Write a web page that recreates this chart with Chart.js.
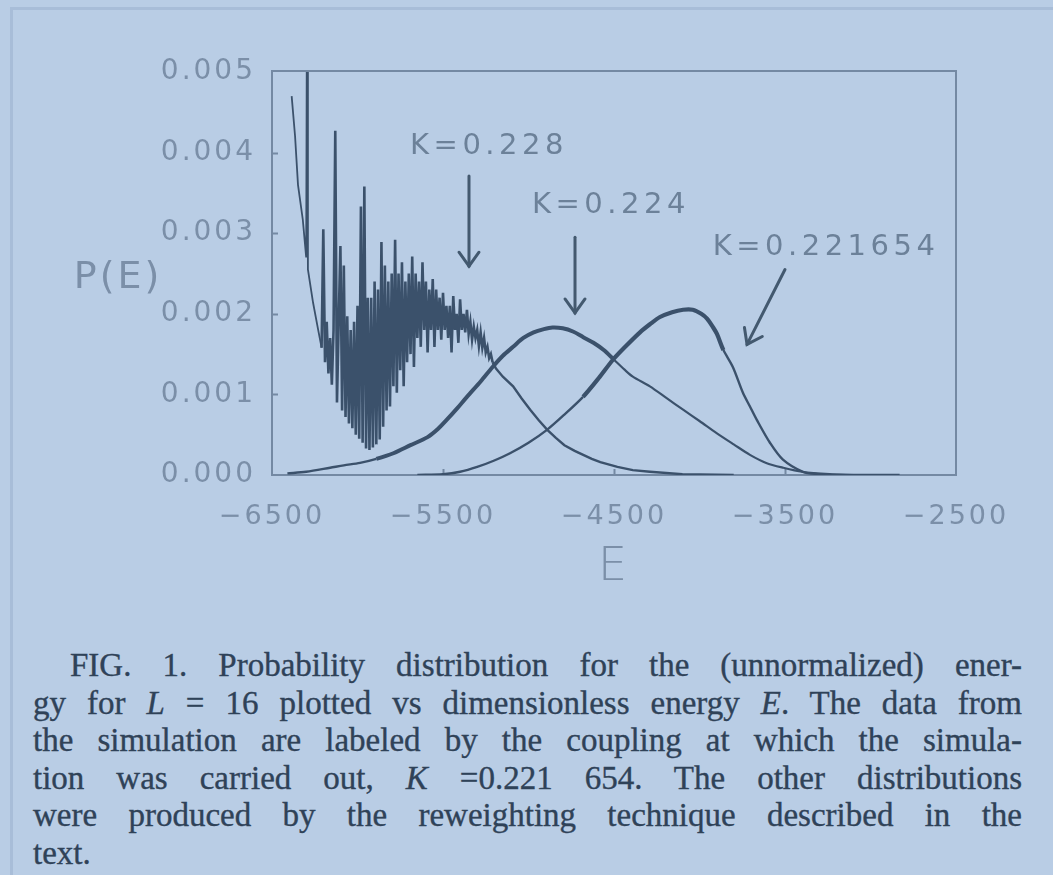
<!DOCTYPE html>
<html><head><meta charset="utf-8">
<script src="https://cdn.jsdelivr.net/npm/chart.js@4.4.0/dist/chart.umd.min.js"></script>
<style>
html,body{margin:0;padding:0;background:#b9cde5;width:1053px;height:875px;overflow:hidden;}
#wrap{position:absolute;left:0;top:0;width:1053px;height:600px;}
#edgeL{position:absolute;left:10px;top:7px;width:3px;height:868px;background:#a8bdd8;}
#edgeT{position:absolute;left:10px;top:7px;width:1043px;height:3px;background:#a8bdd8;}
#cap{position:absolute;left:33px;top:647px;width:989px;font-family:"Liberation Serif","Times New Roman",serif;font-size:33px;line-height:37.5px;color:#2f4258;-webkit-text-stroke:0.35px #2f4258;}
#cap .j{text-align:justify;text-align-last:justify;}
#cap .first{text-indent:37px;}
</style>
</head><body>
<div id="edgeL"></div><div id="edgeT"></div>
<div id="wrap"><canvas id="c" width="1053" height="600"></canvas></div>
<div id="cap">
<div class="j first">FIG. 1. Probability distribution for the (unnormalized) ener-</div>
<div class="j">gy for <i>L</i> = 16 plotted vs dimensionless energy <i>E</i>. The data from</div>
<div class="j">the simulation are labeled by the coupling at which the simula-</div>
<div class="j">tion was carried out, <i>K</i> =0.221 654. The other distributions</div>
<div class="j">were produced by the reweighting technique described in the</div>
<div>text.</div>
</div>
<script>
// ---- data ----
const seriesLabels = ['K=0.228', 'K=0.224', 'K=0.221654'];
const xTicks = [-6500, -5500, -4500, -3500, -2500];
const yTicks = [0, 0.001, 0.002, 0.003, 0.004, 0.005];
const xTitle = 'E';
const yTitle = 'P(E)';

const E228 = [
 -6385,-6365,-6348,-6320,-6300,-6295,-6290,-6260,-6230,-6210,
 -6200,-6190,-6180,-6170,-6160,-6150,-6140,-6130,-6120,-6110,
 -6100,-6090,-6080,-6070,-6060,-6050,-6040,-6030,-6020,-6010,
 -6000,-5990,-5980,-5970,-5960,-5950,-5940,-5930,-5920,-5910,
 -5900,-5890,-5880,-5870,-5860,-5850,-5840,-5830,-5820,-5810,
 -5800,-5790,-5780,-5770,-5760,-5750,-5740,-5730,-5720,-5710,
 -5700,-5690,-5680,-5670,-5660,-5650,-5640,-5630,-5620,-5610,
 -5600,-5590,-5580,-5570,-5560,-5550,-5540,-5530,-5520,-5510,
 -5500,-5490,-5480,-5470,-5460,-5450,-5440,-5430,-5420,-5410,
 -5400,-5390,-5380,-5370,-5360,-5350,-5340,-5330,-5320,-5310,
 -5300,-5290,-5280,-5270,-5260,-5250,-5240,-5230,-5220,-5210,
 -5190,-5150,-5090,-5040,-4990,-4940,-4890,-4840,-4790,-4730,
 -4680,-4630,-4580,-4480,-4390,-4290,-4100,-3800
];
const P228 = [
 0.0047,0.0042,0.0036,0.00317,0.0027,0.0065,0.00255,0.00214,0.0018,0.00158,
 0.00305,0.0014,0.0019,0.00126,0.0017,0.00112,0.0018,0.00427,0.0009,0.0019,
 0.00284,0.0008,0.0026,0.00072,0.00197,0.00064,0.0018,0.00058,0.0019,0.0005,
 0.0021,0.00045,0.00333,0.0004,0.00358,0.00033,0.0022,0.00031,0.0022,0.00034,
 0.0024,0.00038,0.0023,0.00044,0.00289,0.0006,0.0026,0.0008,0.0024,0.00085,
 0.0025,0.0011,0.00292,0.00102,0.0025,0.0013,0.00264,0.0011,0.0024,0.0014,
 0.0025,0.0015,0.00271,0.00134,0.0025,0.0017,0.0024,0.00159,0.00264,0.0018,
 0.0024,0.00152,0.0023,0.0018,0.00243,0.00159,0.0023,0.0018,0.0022,0.00168,
 0.00226,0.0018,0.0021,0.0017,0.0021,0.00152,0.00222,0.0018,0.002,0.00164,
 0.00218,0.0018,0.002,0.00177,0.00205,0.00175,0.0019,0.00168,0.00184,0.0017,
 0.0018,0.0016,0.00177,0.00158,0.0017,0.00152,0.00159,0.00145,0.0015,0.0014,
 0.00132,0.00122,0.0011,0.00095,0.00081,0.00068,0.00056,0.00046,0.00037,0.0003,
 0.00025,0.0002,0.00016,0.0001,0.00006,0.00004,0.00001,0
];
const E224 = [-6410,-6300,-6160,-6080,-5985,-5890,-5790,-5690,-5590,-5530,
 -5480,-5420,-5360,-5280,-5210,-5150,-5090,-5030,-4970,-4910,
 -4860,-4800,-4740,-4680,-4620,-4560,-4500,-4440,-4390,-4290,
 -4190,-4096,-4000,-3900,-3800,-3705,-3610,-3510,-3400,-3240,-3100];
const P224 = [0.00002,0.00004,0.00009,0.00012,0.00015,0.0002,0.00027,0.00037,0.00047,0.00057,
 0.00068,0.00082,0.00097,0.00116,0.00134,0.00148,0.00159,0.0017,0.00177,0.00181,
 0.00183,0.00182,0.00178,0.00171,0.00164,0.00155,0.00143,0.00131,0.00122,0.0011,
 0.00095,0.00081,0.00067,0.00052,0.00038,0.00025,0.00015,0.00009,0.00004,0.00001,0];
const E2216 = [-5650,-5500,-5400,-5300,-5200,-5108,-5000,-4892,-4790,-4681,
 -4590,-4506,-4430,-4348,-4290,-4231,-4160,-4096,-4040,-3990,
 -3956,-3920,-3898,-3860,-3805,-3746,-3705,-3664,-3588,-3512,
 -3395,-3300,-3200,-2830];
const P2216 = [0,0.00001,0.00004,0.0001,0.00018,0.00027,0.0004,0.00056,0.00075,0.00097,
 0.0012,0.00143,0.0016,0.00177,0.00187,0.00196,0.00202,0.00205,0.00205,0.002,
 0.00194,0.00183,0.00175,0.00155,0.00134,0.00102,0.00085,0.00068,0.0004,0.00019,
 0.00004,0.00001,0,0];

// annotation anchors (data units)
const annText = [[-5231, 0.00408], [-4518, 0.00335], [-3260, 0.00282]];
const annArrow = [[-5348, 0.00371, -5348, 0.00259], [-4728, 0.00295, -4728, 0.00201], [-3500, 0.00255, -3722, 0.00162]];

// ---- styles ----
const INK = '#3b516b';
const TXT = '#7b8fa8';
const ANN = '#6c8199';
const FRAME = '#7489a3';
const LS = '3px';
const FONT = '"DejaVu Sans", "Liberation Sans", sans-serif';

function pts(E, P) { return E.map((e, i) => ({x: e, y: P[i]})); }

const decor = {
  id: 'decor',
  beforeUpdate(chart) { chart.ctx.letterSpacing = LS; },
  beforeDraw(chart) { chart.ctx.letterSpacing = LS; },
  beforeDatasetsDraw(chart) {
    const {ctx, chartArea: a, scales: {x, y}} = chart;
    ctx.save();
    ctx.strokeStyle = FRAME; ctx.lineWidth = 2;
    ctx.strokeRect(a.left, a.top - 1, a.right - a.left, a.bottom - a.top + 1);
    ctx.beginPath();
    yTicks.slice(1, -1).forEach(v => { const py = Math.round(y.getPixelForValue(v)) + 0.5; ctx.moveTo(a.left, py); ctx.lineTo(a.left + 6, py); });
    xTicks.slice(1, -1).forEach(v => { const px = Math.round(x.getPixelForValue(v)) + 0.5; ctx.moveTo(px, a.bottom); ctx.lineTo(px, a.bottom - 6); });
    ctx.stroke();
    ctx.fillStyle = TXT; ctx.font = '38px ' + FONT; ctx.letterSpacing = '3px';
    ctx.textAlign = 'center'; ctx.textBaseline = 'middle';
    ctx.fillText(yTitle, a.left - 154, y.getPixelForValue((y.min + y.max) / 2) + 5);
    ctx.restore();
  },
  afterDatasetsDraw(chart) {
    const {ctx, scales: {x, y}} = chart;
    ctx.save();
    ctx.fillStyle = ANN; ctx.font = '29px ' + FONT; ctx.letterSpacing = '4.5px';
    ctx.textAlign = 'center'; ctx.textBaseline = 'middle';
    seriesLabels.forEach((t, i) => ctx.fillText(t, x.getPixelForValue(annText[i][0]), y.getPixelForValue(annText[i][1])));
    ctx.strokeStyle = '#43596f'; ctx.lineWidth = 3; ctx.lineCap = 'round';
    annArrow.forEach(([e1, p1, e2, p2]) => {
      const x1 = x.getPixelForValue(e1), y1 = y.getPixelForValue(p1);
      const x2 = x.getPixelForValue(e2), y2 = y.getPixelForValue(p2);
      const dx = x2 - x1, dy = y2 - y1, L = Math.hypot(dx, dy), ux = dx / L, uy = dy / L;
      ctx.beginPath(); ctx.moveTo(x1, y1); ctx.lineTo(x2, y2); ctx.stroke();
      const hl = 14, hw = 10;
      ctx.beginPath();
      ctx.moveTo(x2 - ux * hl - uy * hw, y2 - uy * hl + ux * hw);
      ctx.lineTo(x2, y2);
      ctx.lineTo(x2 - ux * hl + uy * hw, y2 - uy * hl - ux * hw);
      ctx.stroke();
    });
    ctx.restore();
  }
};

new Chart(document.getElementById('c'), {
  type: 'line',
  data: {
    datasets: [
      {label: seriesLabels[0], data: pts(E228, P228), borderColor: INK, borderWidth: 2, pointRadius: 0, tension: 0,
       segment: {borderWidth: c => { const v = c.p0.parsed.x; return v >= -5210 ? 2.4 : (v >= -6210 ? 2.6 : 1.8); }}},
      {label: seriesLabels[1], data: pts(E224, P224), borderColor: INK, borderWidth: 2.2, pointRadius: 0, tension: 0.3,
       segment: {borderWidth: c => { const v = c.p0.parsed.x; return (v > -5950 && v < -4500) ? 4 : (v <= -5950 ? 2.4 : 2.2); }}},
      {label: seriesLabels[2], data: pts(E2216, P2216), borderColor: INK, borderWidth: 2.4, pointRadius: 0, tension: 0.3,
       segment: {borderWidth: c => { const v = c.p0.parsed.x; return (v > -4700 && v < -3880) ? 4.2 : 2.4; }}}
    ]
  },
  options: {
    responsive: false, animation: false, events: [],
    layout: {padding: {left: 0, right: 97, top: 72, bottom: 0}},
    plugins: {legend: {display: false}, tooltip: {enabled: false}},
    scales: {
      x: {
        type: 'linear', min: xTicks[0], max: xTicks[xTicks.length - 1],
        afterBuildTicks: s => { s.ticks = xTicks.map(v => ({value: v})); },
        afterFit: s => { s.height = 125; },
        grid: {display: false, drawTicks: false}, border: {display: false},
        ticks: {color: TXT, font: {family: FONT, size: 27}, padding: 26, maxRotation: 0, autoSkip: false,
                callback: v => String(v).replace('-', '\u2212')},
        title: {display: true, text: xTitle, color: TXT, font: {family: FONT, size: 46, weight: 300}, padding: {top: 0, bottom: 4}}
      },
      y: {
        type: 'linear', min: yTicks[0], max: yTicks[yTicks.length - 1],
        afterBuildTicks: s => { s.ticks = yTicks.map(v => ({value: v})); },
        afterFit: s => { s.width = 272; },
        grid: {display: false, drawTicks: false}, border: {display: false},
        ticks: {color: TXT, font: {family: FONT, size: 28}, padding: 16, callback: v => Number(v).toFixed(3)}
      }
    }
  },
  plugins: [decor]
});
</script>
</body></html>
